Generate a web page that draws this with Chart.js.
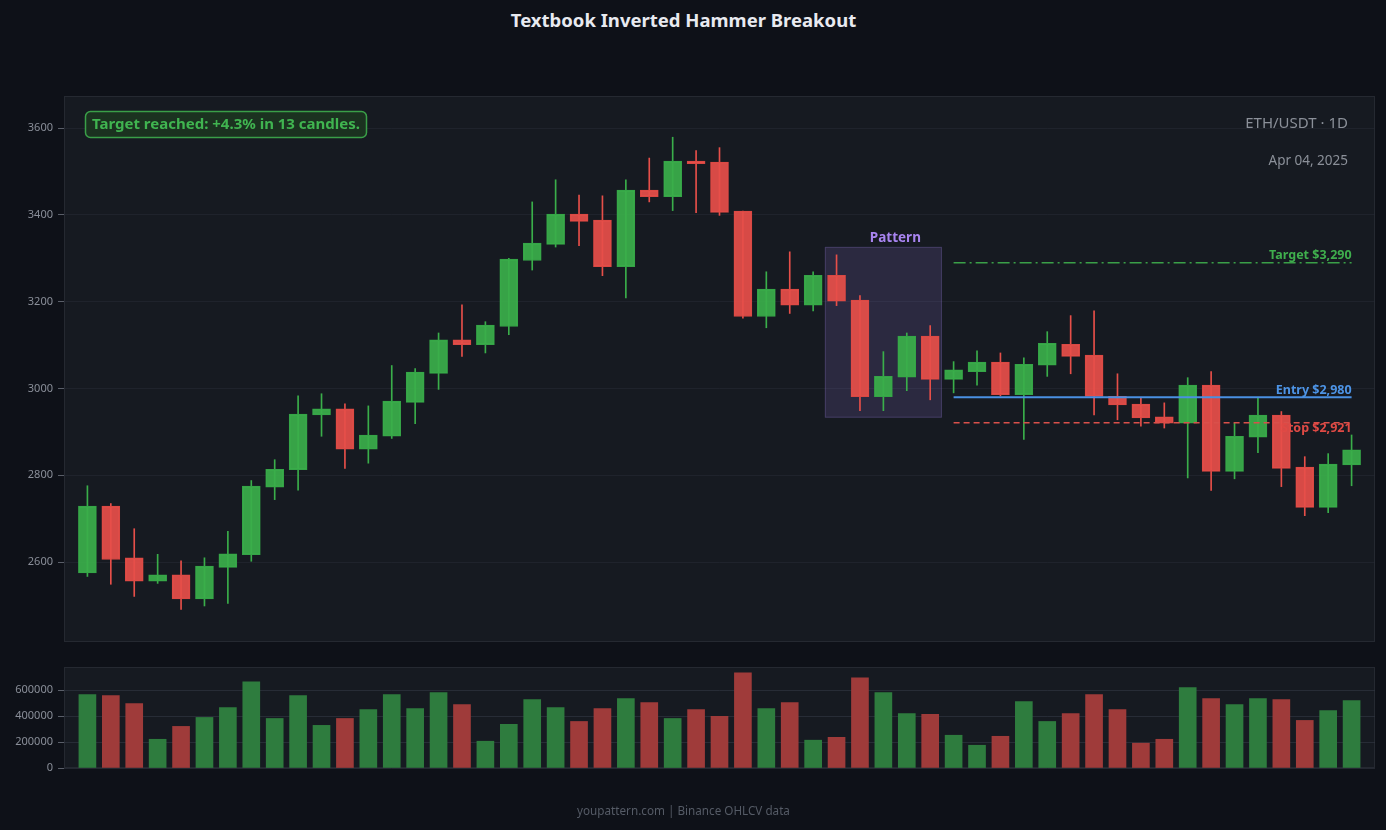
<!DOCTYPE html>
<html>
<head>
<meta charset="utf-8">
<script src="https://cdn.jsdelivr.net/npm/chart.js@4.4.1/dist/chart.umd.min.js"></script>
<style>
    html, body { margin: 0; padding: 0; background: #0e1118; width: 1386px; height: 830px; overflow: hidden; font-family: "Noto Sans", sans-serif; }
    #title { position: absolute; top: 7px; left: 0; width: 1367px; text-align: center; color: #e8eaf0; font-weight: bold; font-size: 18.5px; }
    #footer { position: absolute; top: 802px; left: 0; width: 1367px; text-align: center; color: #555b66; font-size: 11.7px; }
    canvas { position: absolute; left: 0; top: 0; }
</style>
</head>
<body>
<div id="title">Textbook Inverted Hammer Breakout</div>
<canvas id="price" width="1386" height="830"></canvas>
<canvas id="volume" width="1386" height="830"></canvas>
<div id="footer">youpattern.com | Binance OHLCV data</div>
<script>
// OHLCV, one entry per daily candle
const opens  = [2575, 2729, 2610, 2556, 2571, 2515, 2588, 2617, 2773, 2813, 2939, 2953, 2860, 2890, 2968, 3035, 3112, 3101, 3143, 3295,
                3332, 3402, 3388, 3281, 3457, 3442, 3524, 3522, 3409, 3166, 3229, 3192, 3261, 3204, 2981, 3026, 3121, 3021, 3039, 3061,
                2986, 3054, 3102, 3077, 2982, 2964, 2935, 2920, 3008, 2809, 2888, 2939, 2819, 2726, 2824];
const highs  = [2776, 2735, 2677, 2618, 2603, 2610, 2671, 2788, 2836, 2983, 2988, 2965, 2960, 3053, 3046, 3128, 3193, 3154, 3300, 3430,
                3481, 3446, 3444, 3481, 3531, 3579, 3548, 3555, 3409, 3269, 3315, 3269, 3308, 3214, 3085, 3128, 3145, 3062, 3087, 3082,
                3071, 3131, 3168, 3179, 3034, 2979, 2967, 3025, 3039, 2920, 2979, 2947, 2843, 2850, 2893];
const lows   = [2567, 2549, 2521, 2551, 2491, 2499, 2505, 2602, 2744, 2766, 2890, 2816, 2828, 2885, 2919, 2998, 3074, 3082, 3124, 3273,
                3326, 3329, 3260, 3209, 3430, 3410, 3405, 3399, 3162, 3140, 3173, 3179, 3191, 2949, 2949, 2995, 2974, 2990, 3008, 2983,
                2883, 3028, 3034, 2939, 2928, 2913, 2909, 2794, 2765, 2792, 2852, 2774, 2707, 2714, 2776];
const closes = [2729, 2606, 2556, 2571, 2515, 2591, 2619, 2775, 2814, 2941, 2953, 2860, 2893, 2971, 3038, 3112, 3101, 3146, 3298, 3335,
                3402, 3385, 3281, 3457, 3442, 3524, 3518, 3406, 3166, 3229, 3192, 3261, 3201, 2981, 3028, 3121, 3021, 3043, 3061, 2986,
                3056, 3104, 3074, 2982, 2962, 2932, 2920, 3008, 2809, 2890, 2939, 2816, 2726, 2826, 2859];
const volumes = [564000, 557000, 496000, 221000, 320000, 389000, 465000, 663000, 381000, 557000,
                 328000, 381000, 450000, 564000, 458000, 580000, 488000, 206000, 336000, 526000,
                 465000, 358000, 458000, 534000, 503000, 381000, 450000, 397000, 732000, 458000,
                 503000, 214000, 236000, 694000, 580000, 419000, 412000, 252000, 175000, 244000,
                 511000, 358000, 419000, 564000, 450000, 191000, 221000, 618000, 534000, 488000,
                 534000, 526000, 366000, 442000, 519000];

const priceTicks = [2600, 2800, 3000, 3200, 3400, 3600];
const volumeTicks = [0, 200000, 400000, 600000];

const targetPrice = 3290;
const entryPrice = 2980;
const stopPrice = 2921;
const levelStart = 37;          // index where the trade levels begin
const patternStart = 32;        // first candle of the highlighted pattern
const patternEnd = 36;

const GREEN = '#3aae4a';
const RED = '#e64f49';
const VOL_UP = '#2e7c3e';
const VOL_DOWN = '#9f3b3a';
const PLOT_BG = '#161a21';
const PLOT_BORDER = '#252931';

Chart.defaults.font.family = "'Noto Sans', sans-serif";

const isUp = i => closes[i] >= opens[i];
const levelLine = price => [{ x: levelStart, y: price }, { x: opens.length - 1, y: price }];
const fitAxis = s => { s.width = 64; };
const plainNumber = v => String(v);

const plotBox = {
    id: 'plotBox',
    beforeDraw(chart) {
        const { ctx, chartArea: a } = chart;
        ctx.save();
        ctx.fillStyle = PLOT_BG;
        ctx.fillRect(a.left, a.top, a.right - a.left, a.bottom - a.top);
        ctx.strokeStyle = PLOT_BORDER;
        ctx.lineWidth = 1;
        ctx.strokeRect(a.left + 0.5, a.top + 0.5, a.right - a.left - 1, a.bottom - a.top - 1);
        ctx.restore();
    }
};

const patternBox = {
    id: 'patternBox',
    beforeDatasetsDraw(chart) {
        const { ctx, scales: { x, y } } = chart;
        const hi = Math.max(...highs.slice(patternStart, patternEnd + 1));
        const lo = Math.min(...lows.slice(patternStart, patternEnd + 1));
        const left = x.getPixelForValue(patternStart - 0.5);
        const right = x.getPixelForValue(patternEnd + 0.5);
        const top = y.getPixelForValue(hi) - 8;
        const bottom = y.getPixelForValue(lo) + 7;
        ctx.save();
        ctx.fillStyle = 'rgba(130,105,190,0.2)';
        ctx.fillRect(left, top, right - left, bottom - top);
        ctx.strokeStyle = 'rgba(130,110,190,0.3)';
        ctx.lineWidth = 1;
        ctx.strokeRect(left + 0.5, top + 0.5, right - left - 1, bottom - top - 1);
        ctx.fillStyle = '#a884f0';
        ctx.font = "bold 13.5px 'Noto Sans'";
        ctx.textAlign = 'center';
        ctx.textBaseline = 'middle';
        ctx.fillText('Pattern', (left + right) / 2 + 12, top - 9);
        ctx.restore();
    }
};

const overlayText = {
    id: 'overlayText',
    afterDraw(chart) {
        const { ctx, scales: { x, y } } = chart;
        ctx.save();
        // result badge
        ctx.beginPath();
        ctx.roundRect(85.5, 111.5, 281, 26, 5);
        ctx.fillStyle = '#1b3220';
        ctx.fill();
        ctx.strokeStyle = '#3a9f48';
        ctx.lineWidth = 1.5;
        ctx.stroke();
        ctx.fillStyle = '#40b450';
        ctx.font = "bold 15px 'Noto Sans'";
        ctx.textAlign = 'center';
        ctx.textBaseline = 'middle';
        ctx.fillText('Target reached: +4.3% in 13 candles.', 226, 125);

        ctx.textAlign = 'right';
        ctx.fillStyle = '#8b9099';
        ctx.font = "15px 'Noto Sans'";
        ctx.fillText('ETH/USDT · 1D', 1348, 124);
        ctx.font = "13.5px 'Noto Sans'";
        ctx.fillText('Apr 04, 2025', 1348, 161);

        // level labels
        const xr = x.getPixelForValue(opens.length - 1);
        ctx.font = "bold 12.5px 'Noto Sans'";
        ctx.fillStyle = '#3fae4d';
        ctx.fillText('Target $3,290', xr, y.getPixelForValue(targetPrice) - 7);
        ctx.fillStyle = '#4d94e6';
        ctx.fillText('Entry $2,980', xr, y.getPixelForValue(entryPrice) - 7);
        ctx.fillStyle = '#e04a45';
        ctx.fillText('Stop $2,921', xr, y.getPixelForValue(stopPrice) + 6);
        ctx.restore();
    }
};

const priceChart = new Chart(document.getElementById('price'), {
    type: 'bar',
    data: {
        datasets: [
            {
                type: 'line',
                data: levelLine(targetPrice),
                borderColor: '#3a9f48',
                borderWidth: 1.5,
                borderDash: [12, 4, 2, 4],
                pointRadius: 0,
                order: -1
            },
            {
                type: 'line',
                data: levelLine(entryPrice),
                borderColor: '#4a90e2',
                borderWidth: 2,
                pointRadius: 0,
                order: -1
            },
            {
                type: 'line',
                data: levelLine(stopPrice),
                borderColor: '#d9504b',
                borderWidth: 1.5,
                borderDash: [6, 4],
                pointRadius: 0,
                order: -1
            },
            {
                data: opens.map((o, i) => ({ x: i, y: [o, closes[i]] })),
                backgroundColor: opens.map((o, i) => isUp(i) ? 'rgba(58,174,74,0.93)' : 'rgba(230,79,73,0.93)'),
                borderColor: opens.map((o, i) => isUp(i) ? '#35a347' : '#d84843'),
                borderWidth: 1,
                borderSkipped: false,
                barThickness: 18,
                grouped: false,
                order: 1
            },
            {
                data: lows.map((l, i) => ({ x: i, y: [l, highs[i]] })),
                backgroundColor: lows.map((l, i) => isUp(i) ? GREEN : RED),
                barThickness: 1,
                grouped: false,
                order: 2
            }
        ]
    },
    options: {
        responsive: false,
        animation: false,
        layout: { padding: { top: 96, bottom: 188, left: 0, right: 11 } },
        plugins: { legend: { display: false }, tooltip: { enabled: false } },
        scales: {
            x: { type: 'linear', min: -1, max: 55, display: false, offset: false },
            y: {
                min: 2416,
                max: 3674,
                afterFit: fitAxis,
                afterBuildTicks: s => { s.ticks = priceTicks.map(v => ({ value: v })); },
                ticks: { color: '#8a8f99', font: { size: 11 }, padding: 5, callback: plainNumber },
                grid: { color: 'rgba(40,44,54,0.55)', tickColor: '#5a5f69', tickLength: 6 },
                border: { display: false }
            }
        }
    },
    plugins: [plotBox, patternBox, overlayText]
});

const volumeChart = new Chart(document.getElementById('volume'), {
    type: 'bar',
    data: {
        datasets: [{
            data: volumes.map((v, i) => ({ x: i, y: v })),
            backgroundColor: volumes.map((v, i) => isUp(i) ? VOL_UP : VOL_DOWN),
            barThickness: 17
        }]
    },
    options: {
        responsive: false,
        animation: false,
        layout: { padding: { top: 667, bottom: 62, left: 0, right: 11 } },
        plugins: { legend: { display: false }, tooltip: { enabled: false } },
        scales: {
            x: { type: 'linear', min: -1, max: 55, display: false, offset: false },
            y: {
                min: 0,
                max: 777000,
                z: 1,
                afterFit: fitAxis,
                afterBuildTicks: s => { s.ticks = volumeTicks.map(v => ({ value: v })); },
                ticks: { color: '#8a8f99', font: { size: 11 }, padding: 5, callback: plainNumber },
                grid: { color: 'rgba(52,57,68,0.6)', tickColor: '#5a5f69', tickLength: 6 },
                border: { display: false }
            }
        }
    },
    plugins: [plotBox]
});
</script>
</body>
</html>
